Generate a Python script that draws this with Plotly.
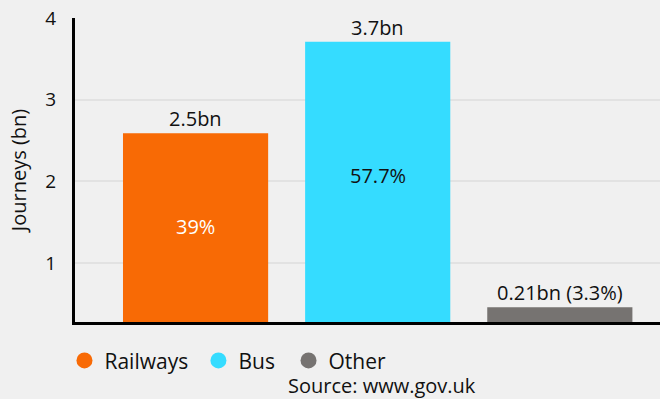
import plotly.graph_objects as go

modes = ["Railways", "Bus", "Other"]
journeys_bn = [2.5, 3.7, 0.21]
share_pct = ["39%", "57.7%", "3.3%"]
bar_height_bn = [2.59, 3.71, 0.46]
colors = ["#f86a05", "#35dcff", "#767371"]
inside_text = ["39%", "57.7%", ""]
inside_color = ["#ffffff", "#111111", "#111111"]
outside_text = ["2.5bn", "3.7bn", "0.21bn (3.3%)"]
y_ticks = [1, 2, 3, 4]
legend_x = [-0.018, 0.211, 0.365]

FONT = "Open Sans"
FS = 20
fig = go.Figure()
fig.add_trace(go.Bar(
    x=modes, y=bar_height_bn, marker=dict(color=colors, line=dict(width=0)),
    showlegend=False, hoverinfo="skip", width=0.797,
))
legend_ids = ["legend", "legend2", "legend3"]
for m, c, lid in zip(modes, colors, legend_ids):
    fig.add_trace(go.Scatter(
        x=[None], y=[None], mode="markers", name=m, legend=lid,
        marker=dict(symbol="circle", size=18, color=c),
    ))
for m, h, t, it, ic in zip(modes, bar_height_bn, outside_text, inside_text, inside_color):
    fig.add_annotation(x=m, y=h, text=t, showarrow=False, yanchor="bottom",
                       yshift=-1, font=dict(family=FONT, size=FS, color="#111111"))
    if it:
        fig.add_annotation(x=m, y=h * 0.56, text=it, showarrow=False, yanchor="middle",
                           font=dict(family=FONT, size=FS, color=ic))
fig.add_annotation(xref="paper", yref="paper", x=0.525, y=-0.158, xanchor="center",
                   yanchor="top", text="Source: www.gov.uk", showarrow=False,
                   font=dict(family=FONT, size=FS, color="#111111"))

legend_style = dict(orientation="h", xanchor="left", y=-0.06, yanchor="top",
                    font=dict(family=FONT, size=21), bgcolor="rgba(0,0,0,0)")
fig.update_layout(
    width=660, height=399,
    paper_bgcolor="#f0f0f0", plot_bgcolor="#f0f0f0",
    margin=dict(l=75, r=0, t=18, b=77),
    font=dict(family=FONT, size=FS, color="#111111"),
    xaxis=dict(range=[-0.662, 2.55], showticklabels=False, showgrid=False,
               showline=True, linecolor="#000000", linewidth=3, ticks="", zeroline=False),
    yaxis=dict(range=[0.28, 4], tickvals=y_ticks, showgrid=True, gridcolor="#e2e2e2",
               gridwidth=2, showline=True, linecolor="#000000", linewidth=3,
               zeroline=False, ticks="", ticklen=0, ticklabelstandoff=12,
               title=dict(text="Journeys (bn)", font=dict(family=FONT, size=FS), standoff=14),
               tickfont=dict(family=FONT, size=19)),
    legend=dict(x=legend_x[0], **legend_style),
    legend2=dict(x=legend_x[1], **legend_style),
    legend3=dict(x=legend_x[2], **legend_style),
)
fig.write_html("out.html")
